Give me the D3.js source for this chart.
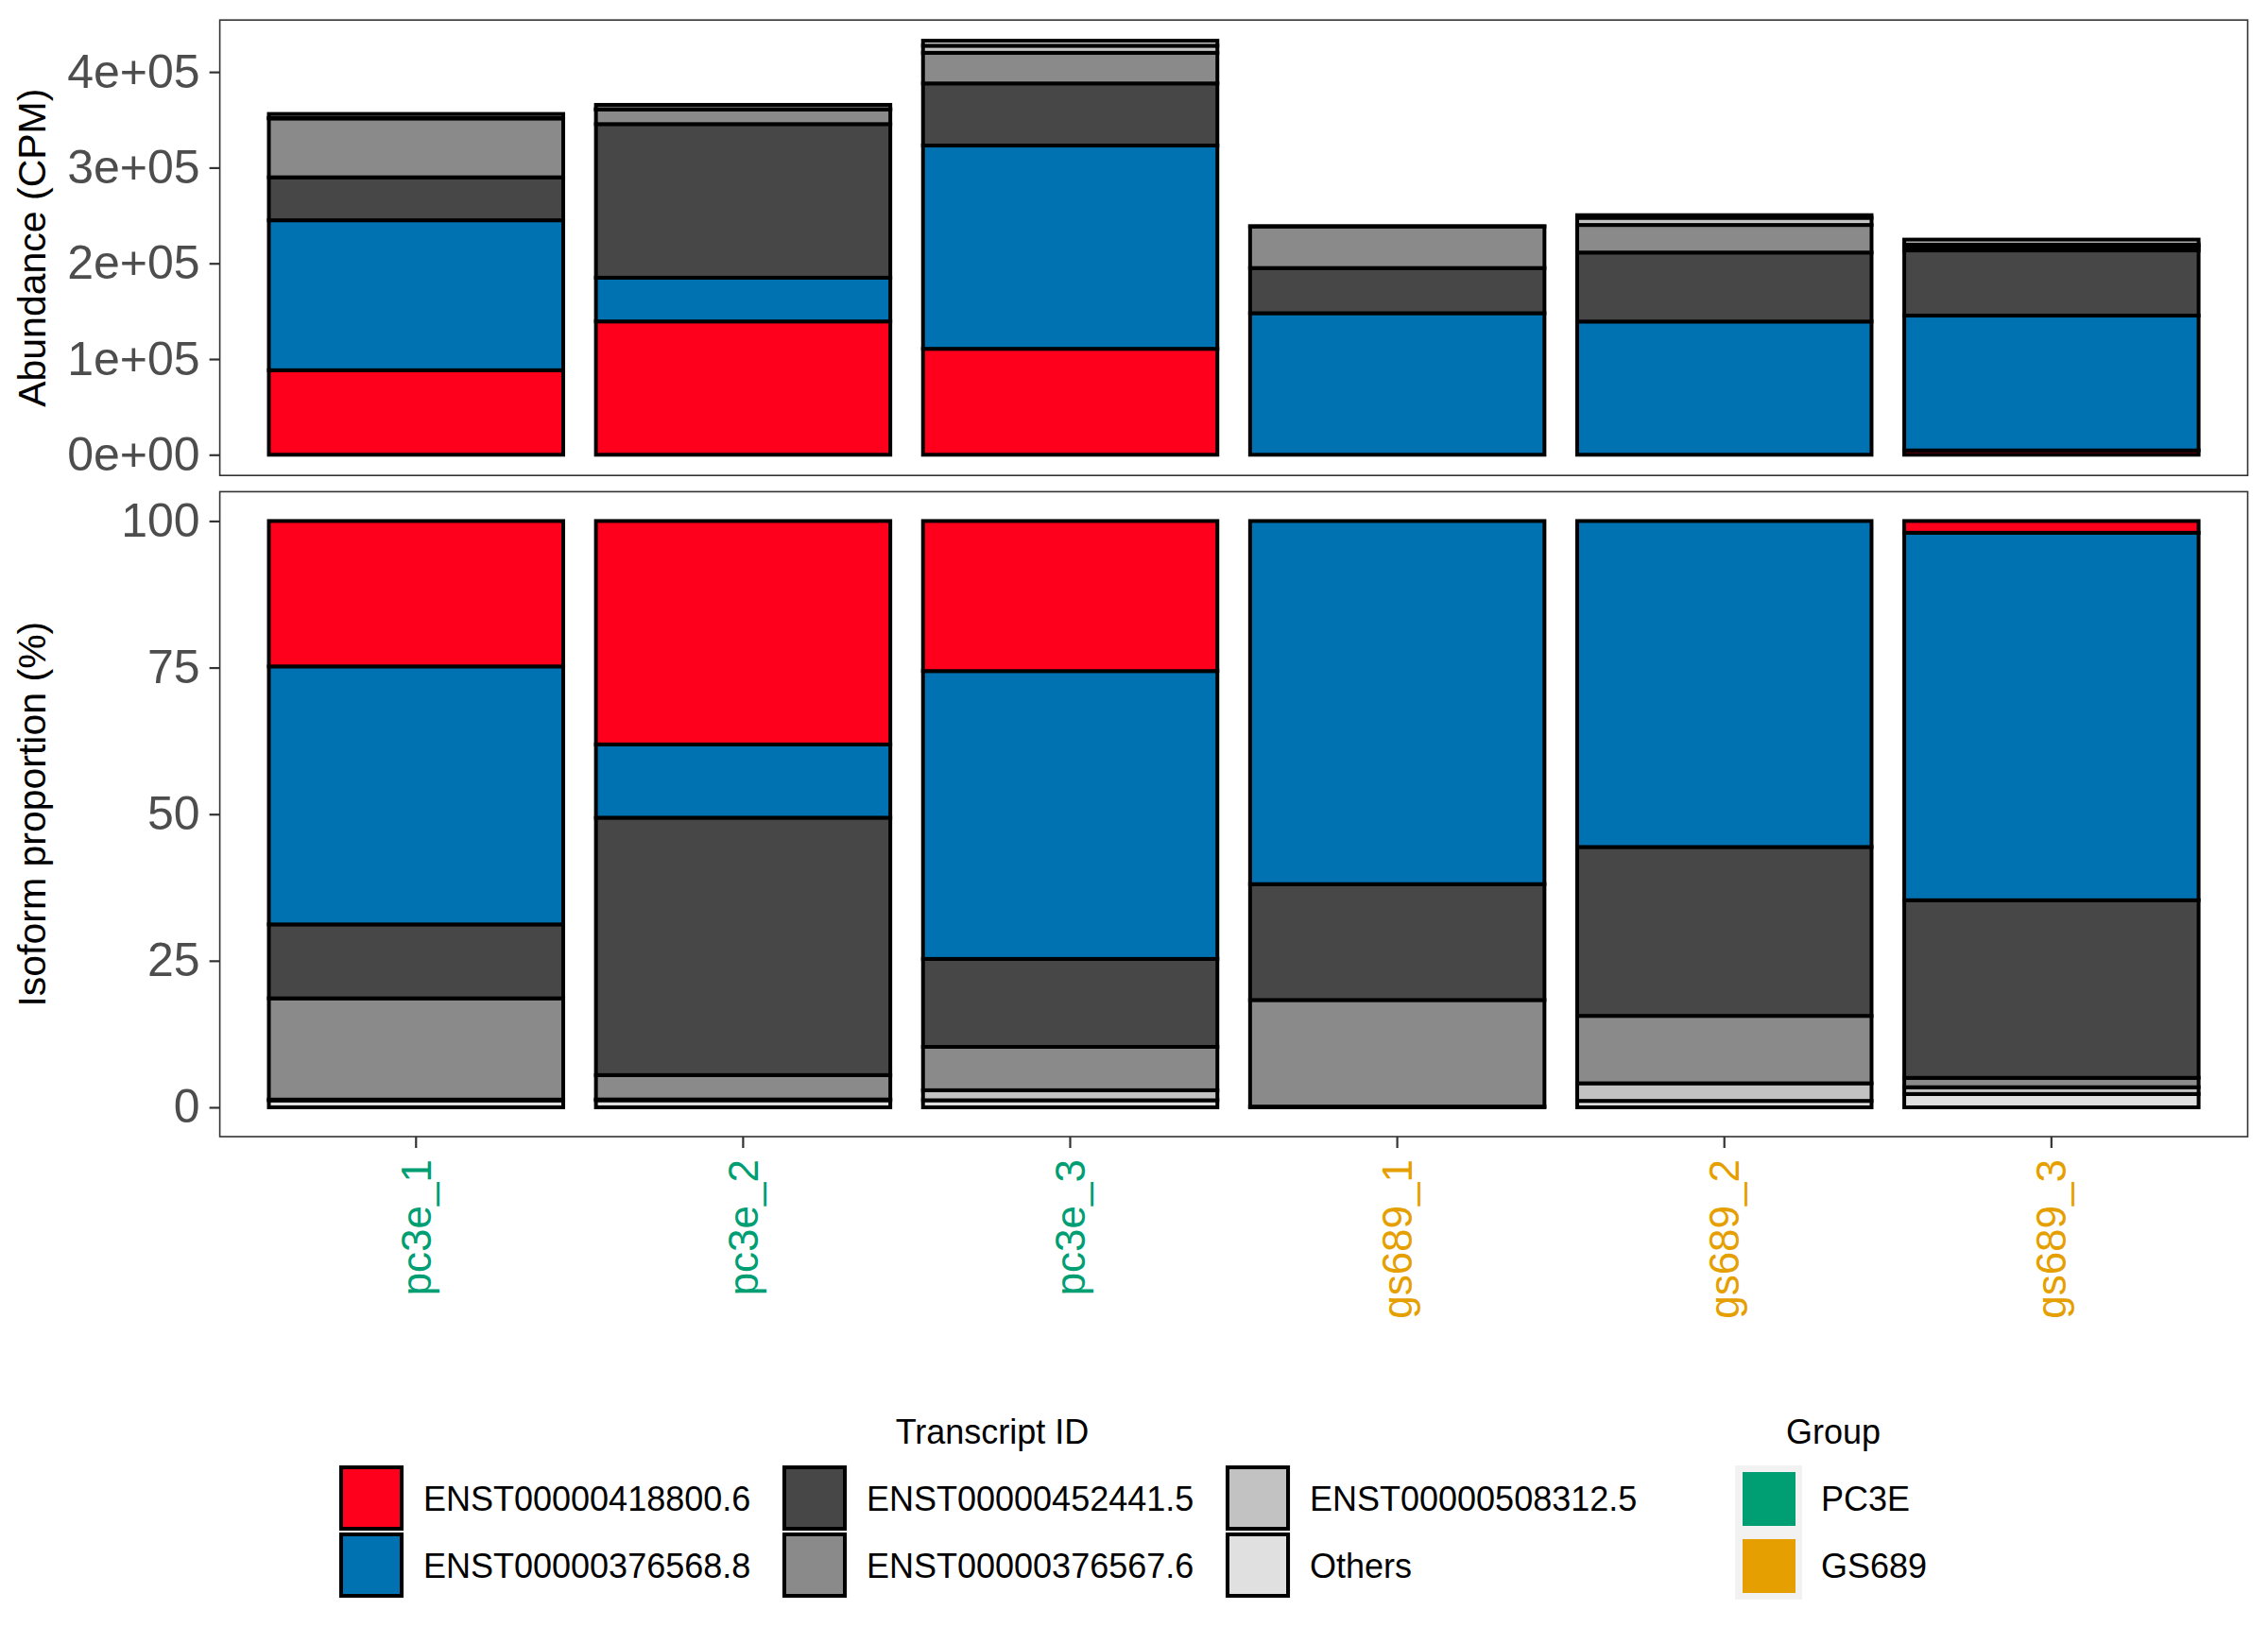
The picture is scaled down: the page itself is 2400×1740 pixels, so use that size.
<!DOCTYPE html>
<html><head><meta charset="utf-8">
<script src="https://cdn.jsdelivr.net/npm/d3@7"></script>
<style>body{margin:0;background:#fff} text{font-family:"Liberation Sans",Arial,sans-serif}</style>
</head><body><svg id="c" width="2400" height="1740"></svg>
<script>
// ---- data ----
const samples = ["pc3e_1","pc3e_2","pc3e_3","gs689_1","gs689_2","gs689_3"];
const sampleGroup = ["PC3E","PC3E","PC3E","GS689","GS689","GS689"];
const transcripts = ["ENST00000418800.6","ENST00000376568.8","ENST00000452441.5","ENST00000376567.6","ENST00000508312.5","Others"];
// abundance (CPM) per transcript, one value per sample
const enst418800 = [88300,139300,110700,0,0,4500];
const enst376568 = [156700,45700,212400,147900,139200,140900];
const enst452441 = [44900,160500,64900,47200,72100,68100];
const enst376567 = [61500,15200,32000,43400,28800,3600];
const enst508312 = [500,500,7400,0,7500,2600];
const othersCPM  = [4200,4400,5200,300,2750,5100];
const groups = ["PC3E","GS689"];
const topTicks = [0,1e5,2e5,3e5,4e5];
const topTickLabels = ["0e+00","1e+05","2e+05","3e+05","4e+05"];
const bottomTicks = [0,25,50,75,100];

// ---- styles ----
const fillColors = ["#FF001C","#0072B2","#474747","#8A8A8A","#C2C2C2","#E0E0E0"];
const groupColors = ["#009E73","#E69F00"];

const series = [enst418800,enst376568,enst452441,enst376567,enst508312,othersCPM];
const rows = samples.map((s,i)=>{
  const r = {sample:s};
  transcripts.forEach((t,k)=>{ r[t] = series[k][i]; });
  return r;
});
const totals = rows.map(r=>d3.sum(transcripts,t=>r[t]));
const propRows = rows.map((r,i)=>{
  const p = {sample:r.sample};
  transcripts.forEach(t=>{ p[t] = r[t]/totals[i]*100; });
  return p;
});

const svg = d3.select("#c");
const L = 232.6, R = 2378.5;
const top1 = 21.2, bot1 = 503.2, top2 = 520.4, bot2 = 1203;

const x = d3.scaleBand().domain(samples).range([L,R]).paddingInner(0.1).paddingOuter(0.15);
const maxT = d3.max(totals);
const yTop = d3.scaleLinear().domain([-0.05*maxT, 1.05*maxT]).range([bot1, top1]);
const yBot = d3.scaleLinear().domain([-5,105]).range([bot2, top2]);

const color = d3.scaleOrdinal().domain(transcripts).range(fillColors);
const gColor = d3.scaleOrdinal().domain(groups).range(groupColors);

[[top1,bot1],[top2,bot2]].forEach(([t,b])=>{
  svg.append("rect").attr("x",L).attr("y",t).attr("width",R-L).attr("height",b-t).attr("fill","#fff");
});

function drawStack(data, keys, y){
  const st = d3.stack().keys(keys)(data);
  const g = svg.append("g");
  st.forEach(layer=>{
    g.selectAll(null).data(layer).enter().append("rect")
      .attr("x",d=>x(d.data.sample))
      .attr("width",x.bandwidth())
      .attr("y",d=>y(d[1]))
      .attr("height",d=>Math.max(0,y(d[0])-y(d[1])))
      .attr("fill",color(layer.key))
      .attr("stroke","#000").attr("stroke-width",4);
  });
}
drawStack(rows, transcripts, yTop);
drawStack(propRows, transcripts.slice().reverse(), yBot);

[[top1,bot1],[top2,bot2]].forEach(([t,b])=>{
  svg.append("rect").attr("x",L).attr("y",t).attr("width",R-L).attr("height",b-t)
    .attr("fill","none").attr("stroke","#333").attr("stroke-width",1.6);
});

function styleAxis(g){
  g.select(".domain").remove();
  g.selectAll(".tick line").attr("stroke","#333").attr("stroke-width",2.2);
  g.selectAll(".tick text").attr("fill","#4D4D4D").style("font-size","50px")
    .style("font-family",'"Liberation Sans",Arial,sans-serif');
}
svg.append("g").attr("transform",`translate(${L},0)`)
  .call(d3.axisLeft(yTop).tickValues(topTicks).tickFormat((d,i)=>topTickLabels[i]).tickSize(11).tickPadding(10))
  .call(styleAxis);
svg.append("g").attr("transform",`translate(${L},0)`)
  .call(d3.axisLeft(yBot).tickValues(bottomTicks).tickFormat(d=>d).tickSize(11).tickPadding(10))
  .call(styleAxis);

const xa = svg.append("g").attr("transform",`translate(0,${bot2})`)
  .call(d3.axisBottom(x).tickSize(12));
xa.select(".domain").remove();
xa.selectAll(".tick line").attr("stroke","#333").attr("stroke-width",2.2);
xa.selectAll(".tick text")
  .attr("transform","rotate(-90)")
  .attr("x",-24).attr("y",0).attr("dy","0.35em")
  .attr("text-anchor","end")
  .style("font-size","44px")
  .style("font-family",'"Liberation Sans",Arial,sans-serif')
  .attr("fill",(d,i)=>gColor(sampleGroup[i]));

svg.append("text").attr("transform",`translate(48,${(top1+bot1)/2}) rotate(-90)`)
  .attr("text-anchor","middle").style("font-size","41px").attr("fill","#000").text("Abundance (CPM)");
svg.append("text").attr("transform",`translate(48,${(top2+bot2)/2}) rotate(-90)`)
  .attr("text-anchor","middle").style("font-size","41px").attr("fill","#000").text("Isoform proportion (%)");

svg.append("text").attr("x",1050).attr("y",1528).attr("text-anchor","middle")
  .style("font-size","36px").text("Transcript ID");
const colX = [359, 828, 1297];
const rowY = [1552, 1623];
transcripts.forEach((t,k)=>{
  const c = Math.floor(k/2), r = k%2;
  const kx = colX[c], ky = rowY[r];
  svg.append("rect").attr("x",kx-1).attr("y",ky-2).attr("width",70).attr("height",71).attr("fill","#F2F2F2");
  svg.append("rect").attr("x",kx+2).attr("y",ky+1).attr("width",64).attr("height",65)
    .attr("fill",color(t)).attr("stroke","#000").attr("stroke-width",4);
  svg.append("text").attr("x",kx+89).attr("y",ky+34).attr("dy","0.35em")
    .style("font-size","36px").text(t);
});

svg.append("text").attr("x",1940).attr("y",1528).attr("text-anchor","middle")
  .style("font-size","36px").text("Group");
groups.forEach((g,k)=>{
  const ky = 1551 + k*71;
  svg.append("rect").attr("x",1836).attr("y",ky).attr("width",71).attr("height",71).attr("fill","#F2F2F2");
  svg.append("rect").attr("x",1844).attr("y",ky+7).attr("width",56).attr("height",57).attr("fill",gColor(g));
  svg.append("text").attr("x",1927).attr("y",ky+35).attr("dy","0.35em")
    .style("font-size","36px").text(g);
});
</script></body></html>
